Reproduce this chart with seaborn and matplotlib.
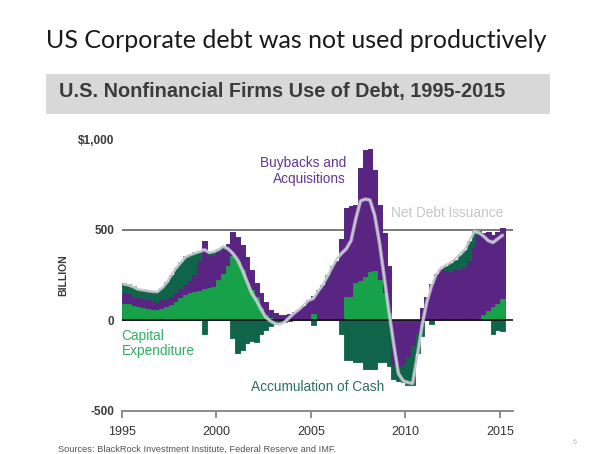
import numpy as np
import pandas as pd
import seaborn as sns
import matplotlib.pyplot as plt
import matplotlib.patheffects as pe
from matplotlib.patches import Rectangle

# quarterly data, 1995Q1 - 2015Q1, $ billion
quarters = [f"{y}Q{q}" for y in range(1995, 2016) for q in range(1, 5)][:81]

capex = [90, 88, 80, 75,  70, 62, 58, 56,  62, 72, 85, 100,  120, 140, 150, 155,
         162, 170, 178, 185,  220, 255, 300, 354,  326, 280, 205, 168,  130, 65, 28, 11,
         5, 0, 0, 0,  0, 0, 0, 0,  35, 0, 0, 0,  0, 0, 0, 130,
         130, 205, 215, 240,  265, 270, 225, 150,  40, 0, 0, 0,  0, 0, 0, 0,
         0, 0, 0, 0,  0, 0, 0, 0,  0, 0, 0, 0,  30, 50, 75, 90,  115]

buybacks = [60, 57, 45, 45,  48, 48, 42, 37,  50, 43, 45, 50,  55, 56, 65, 95,
            158, 267, 182, 170,  160, 135, 120, 136,  134, 135, 145, 112,  75, 85, 70, 44,
            33, 30, 30, 35,  45, 60, 80, 110,  100, 165, 195, 225,  280, 330, 450, 490,
            500, 435, 625, 700,  680, 560, 415, 330,  260, -240, -255, -240,  -200, -140, -70, 70,
            130, 200, 255, 285,  270, 265, 275, 280,  290, 330, 400, 470,  450, 440, 395, 400,  395]

cash = [56, 55, 65, 55,  52, 55, 60, 65,  68, 95, 120, 140,  145, 159, 150, 125,
        65, -74, 15, 25,  15, 20, 0, -100,  -180, -165, -125, -115,  -120, -75, -55, -35,
        -20, -10, -10, -5,  0, 0, 0, 0,  -25, 0, 0, 25,  20, 0, -74, -223,
        -223, -233, -233, -270,  -270, -270, -233, -233,  -251, -85, -80, -100,  -160, -220, -110, -90,
        0, -20, 0, 0,  30, 50, 60, 80,  100, 110, 95, 25,  0, 0, -74, -56,  -60]

net_debt = [200, 195, 185, 172,  168, 163, 160, 158,  178, 208, 250, 290,  320, 350, 362, 372,
            380, 390, 375, 380,  392, 410, 395, 370,  335, 280, 215, 150,  110, 60, 15, -5,
            -20, -25, -10, 15,  40, 60, 85, 110,  120, 160, 195, 245,  295, 340, 370, 395,
            440, 560, 660, 670,  665, 580, 430, 240,  50, -130, -295, -335,  -345, -350, -200, -30,
            100, 190, 255, 290,  305, 320, 340, 365,  390, 440, 490, 485,  465, 440, 430, 450,  470]

df = pd.DataFrame({"quarter": quarters, "capex": capex, "buybacks": buybacks,
                   "cash": cash, "net": net_debt})
df["t"] = df["quarter"].str[:4].astype(int) + (df["quarter"].str[-1].astype(int) - 1) / 4 + 0.125

pos_buy = df["buybacks"].clip(lower=0)
neg_buy = df["buybacks"].clip(upper=0)
pos_cash = df["cash"].clip(lower=0)
neg_cash = df["cash"].clip(upper=0)

GREEN = "#17a24a"
PURPLE = "#5a2483"
DKGREEN = "#0f6449"
LINE = "#c6c6d0"

sns.set_style("white")
plt.rcParams["font.family"] = ["Liberation Sans", "DejaVu Sans"]

fig = plt.figure(figsize=(5.98, 4.54), dpi=100)
ax = fig.add_axes([121.5 / 598, 1 - 410.5 / 454, (513 - 121.5) / 598, (410.5 - 139.5) / 454])

# reference lines behind bars
for yv in (1000, 500):
    ax.axhline(yv, color="#6e6e6e", lw=1.3, zorder=0)

layers = [
    (df["capex"] + pos_buy + pos_cash, DKGREEN),
    (df["capex"] + pos_buy, PURPLE),
    (df["capex"], GREEN),
    (neg_buy + neg_cash, DKGREEN),
    (neg_buy, PURPLE),
]
for vals, col in layers:
    sns.barplot(x=df["t"], y=vals, native_scale=True, width=1.0, color=col,
                saturation=1, errorbar=None, linewidth=0.6, edgecolor=col, ax=ax, zorder=2)

ax.axhline(0, color="#111111", lw=1.2, zorder=3)

sns.lineplot(x=df["t"], y=df["net"], color=LINE, linewidth=1.4, ax=ax, zorder=4)
ax.lines[-1].set_path_effects([pe.Stroke(linewidth=2.6, foreground="white", alpha=0.5), pe.Normal()])

ax.set_xlim(1995, 2015.68)
ax.set_ylim(-500, 1000)
ax.set_xticks([1995, 2000, 2005, 2010, 2015])
ax.set_xticklabels(["1995", "2000", "2005", "2010", "2015"])
ax.set_yticks([-500, 0, 500, 1000])
ax.set_yticklabels(["-500", "0", "500", "$1,000"], fontweight="bold")
ax.tick_params(axis="y", length=0, pad=5, labelsize=8.5, labelcolor="#3a3a3a")
ax.tick_params(axis="x", direction="out", length=5, width=1.2, color="#7a7a7a",
               pad=6, labelsize=9, labelcolor="#333333", bottom=True)
for s in ("top", "right", "left"):
    ax.spines[s].set_visible(False)
ax.spines["bottom"].set_color("#8a8a8a")
ax.spines["bottom"].set_linewidth(1.4)
ax.set_xlabel("")
ax.set_ylabel("BILLION", fontsize=7.5, fontweight="bold", color="#3a3a3a")
ax.yaxis.set_label_coords(-0.135, 0.5)
ax.patch.set_alpha(0)

# series labels
ax.text(2006.87, 826, "Buybacks and\nAcquisitions", ha="right", va="center",
        multialignment="right", fontsize=9.8, color="#62358f", linespacing=1.15)
ax.text(2009.23, 593, "Net Debt Issuance", ha="left", va="center", fontsize=9.8, color="#c4c4cc")
ax.text(1995.0, -129, "Capital\nExpenditure", ha="left", va="center", fontsize=9.8,
        color="#2fb064", linespacing=1.15)
ax.text(2001.83, -368, "Accumulation of Cash", ha="left", va="center", fontsize=9.8, color="#2c6e5e")

# slide title and banner
fig.text(46 / 598, 1 - 40 / 454, "US Corporate debt was not used productively",
         fontsize=18, family=["Lato", "DejaVu Sans"], color="#1a1a1a", va="center")
fig.patches.append(Rectangle((46 / 598, 1 - 113.5 / 454), 504 / 598, 40 / 454,
                             transform=fig.transFigure, facecolor="#d8d8d8", edgecolor="none"))
fig.text(59 / 598, 1 - 92 / 454, "U.S. Nonfinancial Firms Use of Debt, 1995-2015",
         fontsize=14.3, fontweight="bold", color="#3b3b3b", va="center")

fig.text(58 / 598, 1 - 449 / 454, "Sources: BlackRock Investment Institute, Federal Reserve and IMF.",
         fontsize=6.7, color="#555555", va="center")
fig.text(573 / 598, 1 - 442 / 454, "6", fontsize=5, color="#b5b5b5", va="center")

fig.savefig("out.png", dpi=100, facecolor="white")
